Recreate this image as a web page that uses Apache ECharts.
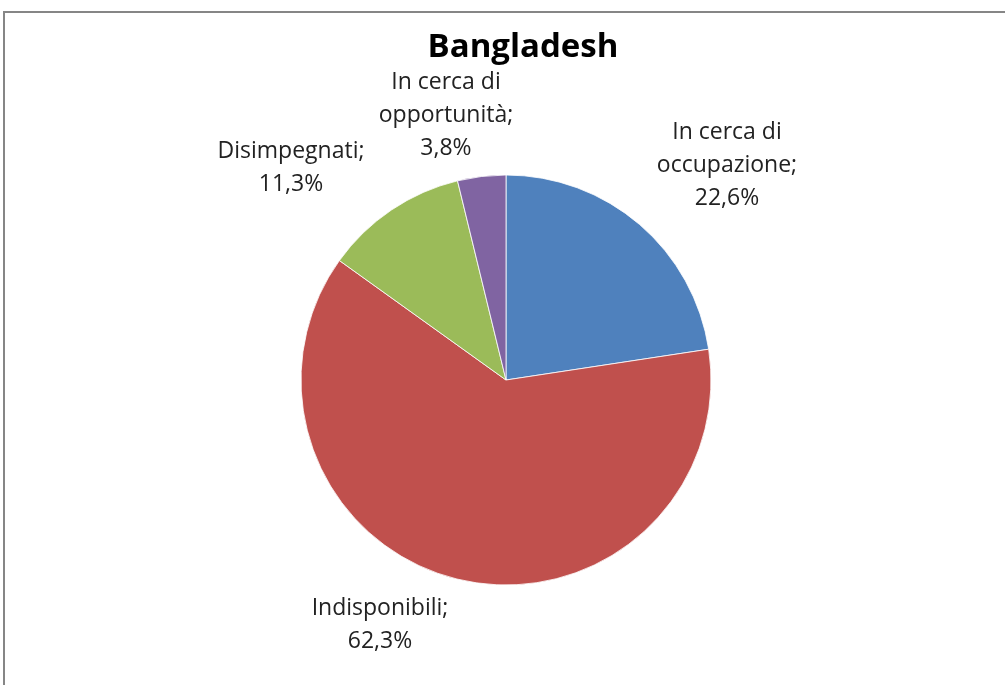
<!DOCTYPE html>
<html lang="it">
<head>
    <meta charset="UTF-8">
    <title>Bangladesh</title>
    <script type="text/javascript" src="https://cdn.jsdelivr.net/npm/echarts@6/dist/echarts.min.js"></script>
    <style>
        html, body { margin: 0; padding: 0; background: #fff; }
        #chart { width: 1005px; height: 685px; }
    </style>
</head>
<body>
<div id="chart"></div>
<script>
    // dati del grafico
    var categorie = ["In cerca di\noccupazione", "Indisponibili", "Disimpegnati", "In cerca di\nopportunità"]
    var valori = [22.6, 62.3, 11.3, 3.8]
    var colori = ["#4F81BD", "#C0504D", "#9BBB59", "#8064A2"]
    // posizione delle etichette (centro del testo)
    var posEtichette = [[727, 165], [380, 625], [291, 168], [446, 115]]

    var dati = []
    for (var i = 0; i < categorie.length; i++) {
        dati.push({name: categorie[i], value: valori[i], itemStyle: {color: colori[i]}})
    }

    var chart = echarts.init(document.getElementById("chart"), null, {renderer: 'canvas'})
    chart.setOption({
        animation: false,
        title: {
            text: "Bangladesh",
            left: 518, top: 26, textAlign: 'center',
            textStyle: {fontFamily: 'Open Sans', fontWeight: 'bold', fontSize: 33, color: '#000'}
        },
        graphic: [{
            type: 'rect',
            shape: {x: 4, y: 12, width: 1010, height: 690},
            style: {fill: 'none', stroke: '#868686', lineWidth: 2},
            silent: true
        }],
        series: [{
            type: 'pie',
            center: [506, 380],
            radius: [0, 205],
            startAngle: 90,
            clockwise: true,
            avoidLabelOverlap: false,
            itemStyle: {borderColor: '#fff', borderWidth: 0.8},
            label: {
                show: true,
                position: 'outside',
                fontFamily: 'Open Sans',
                fontSize: 23,
                lineHeight: 33,
                color: '#222',
                align: 'center',
                formatter: function (p) {
                    return p.name + ";\n" + p.value.toFixed(1).replace(".", ",") + "%"
                }
            },
            labelLine: {show: false},
            labelLayout: function (p) {
                var pos = posEtichette[p.dataIndex]
                return {x: pos[0], y: pos[1], align: 'center', verticalAlign: 'middle'}
            },
            data: dati
        }]
    })
</script>
</body>
</html>
